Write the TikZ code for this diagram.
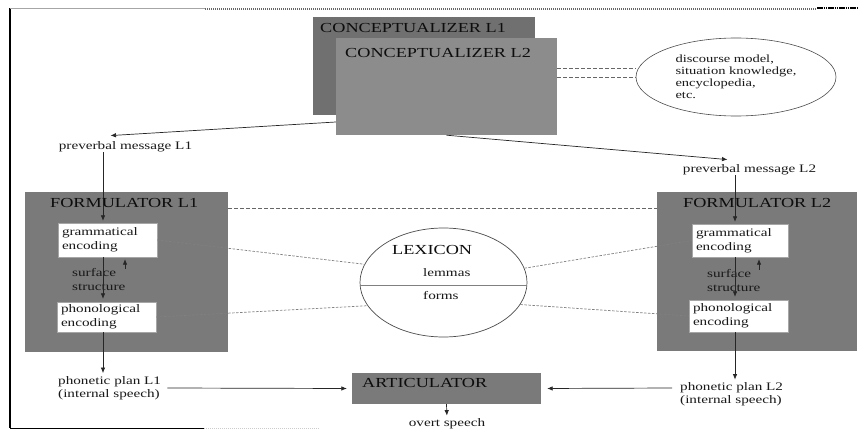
\documentclass[tikz,border=0pt]{standalone}
\usepackage{fontspec}
\setmainfont{Liberation Serif}[FakeStretch=1.32]
\usetikzlibrary{arrows.meta,shapes.geometric}
\begin{document}
\begin{tikzpicture}[x=1pt,y=-1pt,
  gbox/.style={fill=#1,draw=none,inner sep=0},
  caps/.style={inner sep=0,text=black!95,font=\fontsize{13.8}{16}\selectfont},
  small/.style={inner sep=0,text=black!90,font=\fontsize{11.5}{13}\selectfont},
  wbox/.style={fill=white,draw=black!35,line width=0.3pt,inner xsep=4pt,inner ysep=0,
    align=left,text=black!90,font=\fontsize{11.5}{14}\selectfont},
  conn/.style={draw=black!85,line width=0.7pt,-{Latex[length=5.5pt,width=4.5pt]}},
  dashline/.style={draw=black!60,line width=0.7pt,dash pattern=on 3.5pt off 2.5pt},
  dotline/.style={draw=black!50,line width=0.7pt,dash pattern=on 2.5pt off 1.5pt}
]
\useasboundingbox (0,0) rectangle (859,431);
\fill[white] (0,0) rectangle (859,431);

% frame remnants
\draw[black,line width=2pt] (10,8) -- (10,428);
\draw[black!35,line width=1pt] (10,8) -- (205,8);
\draw[black!60,line width=2pt,dash pattern=on 1pt off 1pt] (205,9) -- (817,9);
\draw[black,line width=2pt,dash pattern=on 1.5pt off 0.7pt] (817,8) -- (859,8);
\draw[black,line width=1pt] (10,428) -- (204,428);
\draw[black!20,line width=1pt,dash pattern=on 1pt off 1pt] (204,428) -- (320,428);

% conceptualizers
\node[gbox=black!56,minimum width=222pt,minimum height=98pt] (c1) at (424,66) {};
\node[gbox=black!45,minimum width=221pt,minimum height=97pt] (c2) at (446.5,86.5) {};
\node[caps,anchor=west] (c1t) at (320,28) {CONCEPTUALIZER L1};
\node[caps,anchor=west] (c2t) at (345,53) {CONCEPTUALIZER L2};

% discourse ellipse
\node[ellipse,draw=black!70,line width=0.6pt,minimum width=200pt,minimum height=78pt,
  inner sep=0,align=left,text=black!90,font=\fontsize{11}{12}\selectfont] (disc) at (736,77)
  {discourse model,\\situation knowledge,\\encyclopedia,\\etc.};
\draw[dashline] ([yshift=18.5pt]c2.east) -- ([yshift=9pt]disc.west);
\draw[dashline] ([yshift=9.5pt]c2.east) -- (disc.west);

% preverbal messages
\node[small] (pm1) at (125.5,147) {preverbal message L1};
\node[small] (pm2) at (749.5,170) {preverbal message L2};
\draw[conn] ([yshift=-35.5pt]c2.west) -- ([xshift=-15pt,yshift=6pt]pm1.north);
\draw[conn] (c2.south) -- ([xshift=-22pt,yshift=5pt]pm2.north);

% formulators
\node[gbox=black!52,minimum width=203pt,minimum height=160pt] (f1) at (126.5,272) {};
\node[gbox=black!52,minimum width=200pt,minimum height=159pt] (f2) at (757,271.5) {};
\draw[dashline] ([yshift=64pt]f1.east) -- ([yshift=63.5pt]f2.west);

\coordinate (a1) at (103,0);
\coordinate (b1) at (125,0);
\coordinate (a2) at (735,0);
\coordinate (b2) at (759,0);

\node[wbox,minimum width=99pt,text width=91pt,minimum height=34pt] (g1) at (107.5,240) {grammatical\\encoding};
\node[wbox,minimum width=99pt,text width=91pt,minimum height=30pt] (p1) at (106.5,317) {phonological\\encoding};
\node[wbox,minimum width=96pt,text width=88pt,minimum height=33pt] (g2) at (740,240.5) {grammatical\\encoding};
\node[wbox,minimum width=99pt,text width=91pt,minimum height=32pt] (p2) at (738.5,316) {phonological\\encoding};

\node[small,align=left,anchor=west,font=\fontsize{11.5}{14}\selectfont] (s1) at (72,280) {surface\\structure};
\node[small,align=left,anchor=west,font=\fontsize{11.5}{14}\selectfont] (s2) at (707,281) {surface\\structure};

\node[small,align=left,anchor=west] (ph1) at (58,388) {phonetic plan L1\\(internal speech)};
\node[small,align=left,anchor=west] (ph2) at (680,394.5) {phonetic plan L2\\(internal speech)};

\draw[conn,shorten >=2pt] (pm1.south -| a1) -- (g1.north -| a1);
\draw[conn,shorten >=3pt] (g1.south -| a1) -- (p1.north -| a1);
\draw[conn,shorten >=2pt] (s1.north -| b1) -- (g1.south -| b1);
\draw[conn,shorten >=3pt] (p1.south -| a1) -- (ph1.north -| a1);

\draw[conn,shorten >=2pt] (pm2.south -| a2) -- (g2.north -| a2);
\draw[conn,shorten >=3pt] (g2.south -| a2) -- (p2.north -| a2);
\draw[conn,shorten >=2pt] (s2.north -| b2) -- (g2.south -| b2);
\draw[conn,shorten >=3pt] (p2.south -| a2) -- (ph2.north -| a2);

\node[caps,anchor=west] (f1t) at (50,203) {FORMULATOR L1};
\node[caps,anchor=west] (f2t) at (683,203) {FORMULATOR L2};

% articulator
\node[gbox=black!52,minimum width=189pt,minimum height=31pt] (art) at (446.5,388.5) {};
\node[caps,anchor=west] (artt) at (362,383) {ARTICULATOR};
\node[small] (ov) at (447,424) {overt speech};
\draw[conn,shorten >=5pt] ([xshift=6pt]ph1.east) -- (art.west);
\draw[conn,shorten >=6pt] ([xshift=-8pt,yshift=6.5pt]ph2.west) -- (art.east);
\draw[conn,shorten >=3pt] (art.south) -- (ov.north);

% lexicon
\node[ellipse,draw=black!70,line width=0.7pt,minimum width=167pt,minimum height=109pt,inner sep=0] (lex) at (443.5,282.5) {};
\draw[black!50,line width=0.8pt] ([yshift=-2.5pt]lex.west) -- ([yshift=-2.5pt]lex.east);
\node[caps,anchor=west] (lext) at (392,250) {LEXICON};
\node[small,anchor=west] (lem) at (423,273) {lemmas};
\node[small,anchor=west] (frm) at (423,296) {forms};

\draw[dotline] (g1.east) -- (lex.167);
\draw[dotline] (p1.east) -- (lex.197);
\draw[dotline] (lex.10) -- (g2.west);
\draw[dotline] (lex.344) -- (p2.west);
\end{tikzpicture}
\end{document}
